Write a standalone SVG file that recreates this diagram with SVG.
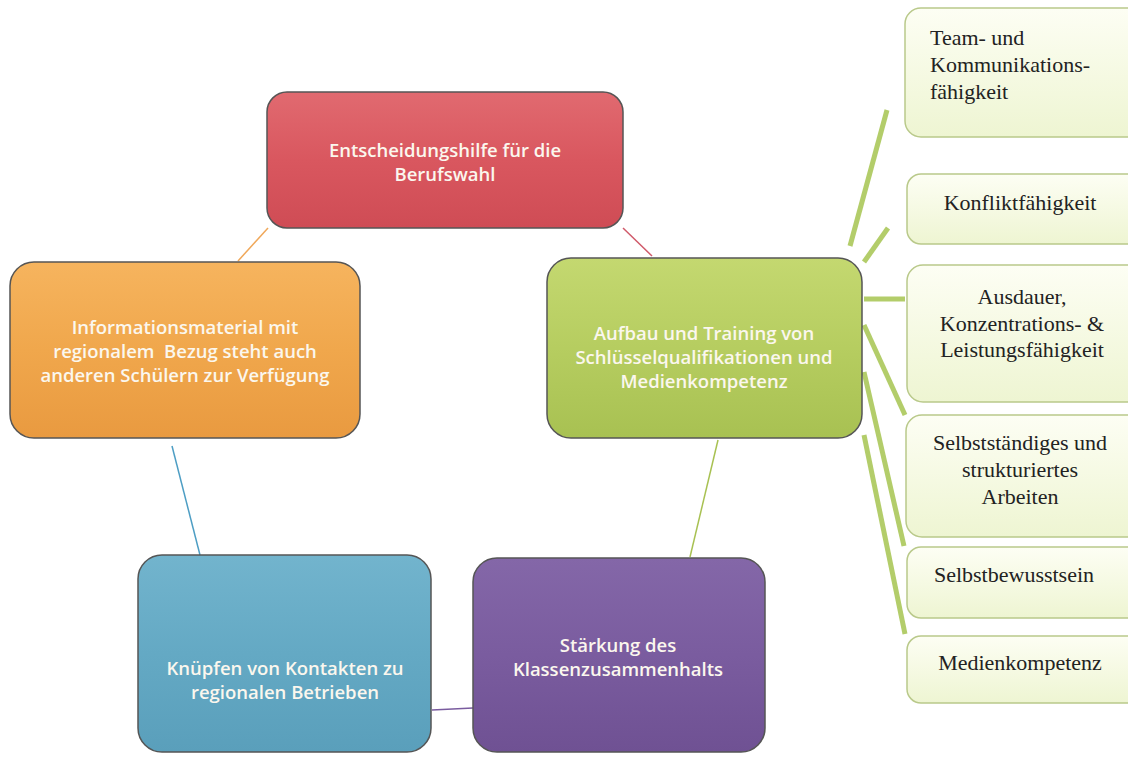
<svg xmlns="http://www.w3.org/2000/svg" width="1128" height="758" viewBox="0 0 1128 758">
<defs>
<linearGradient id="gRed" x1="0" y1="0" x2="0" y2="1"><stop offset="0" stop-color="#e16a70"/><stop offset="0.5" stop-color="#d9575f"/><stop offset="1" stop-color="#cf4c55"/></linearGradient>
<linearGradient id="gGreen" x1="0" y1="0" x2="0" y2="1"><stop offset="0" stop-color="#c4d870"/><stop offset="0.5" stop-color="#b6cd60"/><stop offset="1" stop-color="#a8c152"/></linearGradient>
<linearGradient id="gOrange" x1="0" y1="0" x2="0" y2="1"><stop offset="0" stop-color="#f6b45e"/><stop offset="0.5" stop-color="#f0a74c"/><stop offset="1" stop-color="#e99a40"/></linearGradient>
<linearGradient id="gBlue" x1="0" y1="0" x2="0" y2="1"><stop offset="0" stop-color="#72b4cd"/><stop offset="0.5" stop-color="#64a9c4"/><stop offset="1" stop-color="#5a9fbb"/></linearGradient>
<linearGradient id="gPurple" x1="0" y1="0" x2="0" y2="1"><stop offset="0" stop-color="#8467a8"/><stop offset="0.5" stop-color="#7a5c9f"/><stop offset="1" stop-color="#6f5193"/></linearGradient>
<linearGradient id="gLight" x1="0" y1="0" x2="0" y2="1"><stop offset="0" stop-color="#fdfef4"/><stop offset="1" stop-color="#eef5d2"/></linearGradient>
</defs>
<style>
.main{stroke:#555;stroke-width:1.5}
.mt{font-family:"Open Sans","Liberation Sans",sans-serif;font-size:18.5px;font-weight:600;fill:#fbf7ee;text-anchor:middle;white-space:pre}
.sub{fill:url(#gLight);stroke:#b9c98a;stroke-width:1.5}
.st{font-family:"Liberation Serif","Times New Roman",serif;font-size:22px;fill:#222}
.c{text-anchor:middle}
.br{stroke:#b3cd6a;stroke-width:5;fill:none;stroke-linecap:butt}
.cn{fill:none;stroke-width:1.5}
</style>
<rect width="1128" height="758" fill="#ffffff"/>
<g id="connectors">
<line class="cn" x1="623" y1="228" x2="652" y2="256" stroke="#d05a6a"/>
<line class="cn" x1="268" y1="228" x2="238" y2="261" stroke="#f0a85a"/>
<line class="cn" x1="172" y1="446" x2="200" y2="555" stroke="#4e9ec4"/>
<line class="cn" x1="432" y1="710" x2="473" y2="708" stroke="#7a5c9f"/>
<line class="cn" x1="718" y1="440" x2="690" y2="557" stroke="#a8c152"/>
<line class="br" x1="850" y1="246" x2="887" y2="110"/>
<line class="br" x1="864" y1="262" x2="888" y2="228"/>
<line class="br" x1="864" y1="299" x2="905" y2="299"/>
<line class="br" x1="864" y1="325" x2="905" y2="415"/>
<line class="br" x1="864" y1="372" x2="904" y2="546"/>
<line class="br" x1="864" y1="435" x2="905" y2="634"/>
</g>
<g id="n-red">
<rect class="main" x="267" y="92" width="356" height="136" rx="20" fill="url(#gRed)"/>
<text class="mt" x="445" y="157">Entscheidungshilfe für die</text>
<text class="mt" x="445" y="181">Berufswahl</text>
</g>
<g id="n-green">
<rect class="main" x="547" y="258" width="315" height="180" rx="24" fill="url(#gGreen)"/>
<text class="mt" x="704" y="340">Aufbau und Training von</text>
<text class="mt" x="704" y="364">Schlüsselqualifikationen und</text>
<text class="mt" x="704" y="388">Medienkompetenz</text>
</g>
<g id="n-orange">
<rect class="main" x="10" y="262" width="350" height="176" rx="24" fill="url(#gOrange)"/>
<text class="mt" x="185" y="334">Informationsmaterial mit</text>
<text class="mt" x="185" y="358" xml:space="preserve">regionalem  Bezug steht auch</text>
<text class="mt" x="185" y="382">anderen Schülern zur Verfügung</text>
</g>
<g id="n-blue">
<rect class="main" x="138" y="555" width="293" height="197" rx="24" fill="url(#gBlue)"/>
<text class="mt" x="285" y="675">Knüpfen von Kontakten zu</text>
<text class="mt" x="285" y="699">regionalen Betrieben</text>
</g>
<g id="n-purple">
<rect class="main" x="473" y="558" width="292" height="194" rx="24" fill="url(#gPurple)"/>
<text class="mt" x="618" y="652">Stärkung des</text>
<text class="mt" x="618" y="676">Klassenzusammenhalts</text>
</g>
<g id="n-team">
<rect class="sub" x="905" y="8" width="240" height="129" rx="16"/>
<text class="st" x="930" y="45">Team- und</text>
<text class="st" x="930" y="72">Kommunikations-</text>
<text class="st" x="930" y="99">fähigkeit</text>
</g>
<g id="n-konflikt">
<rect class="sub" x="907" y="174" width="240" height="70" rx="14"/>
<text class="st c" x="1020" y="210">Konfliktfähigkeit</text>
</g>
<g id="n-ausdauer">
<rect class="sub" x="907" y="265" width="240" height="137" rx="16"/>
<text class="st c" x="1022" y="304">Ausdauer,</text>
<text class="st c" x="1022" y="331">Konzentrations- &amp;</text>
<text class="st c" x="1022" y="357">Leistungsfähigkeit</text>
</g>
<g id="n-selbststaendig">
<rect class="sub" x="906" y="415" width="240" height="122" rx="16"/>
<text class="st c" x="1020" y="450">Selbstständiges und</text>
<text class="st c" x="1020" y="477">strukturiertes</text>
<text class="st c" x="1020" y="504">Arbeiten</text>
</g>
<g id="n-selbstbewusst">
<rect class="sub" x="907" y="547" width="240" height="71" rx="14"/>
<text class="st c" x="1014" y="582">Selbstbewusstsein</text>
</g>
<g id="n-medien">
<rect class="sub" x="907" y="636" width="240" height="67" rx="14"/>
<text class="st c" x="1020" y="670">Medienkompetenz</text>
</g>
</svg>
